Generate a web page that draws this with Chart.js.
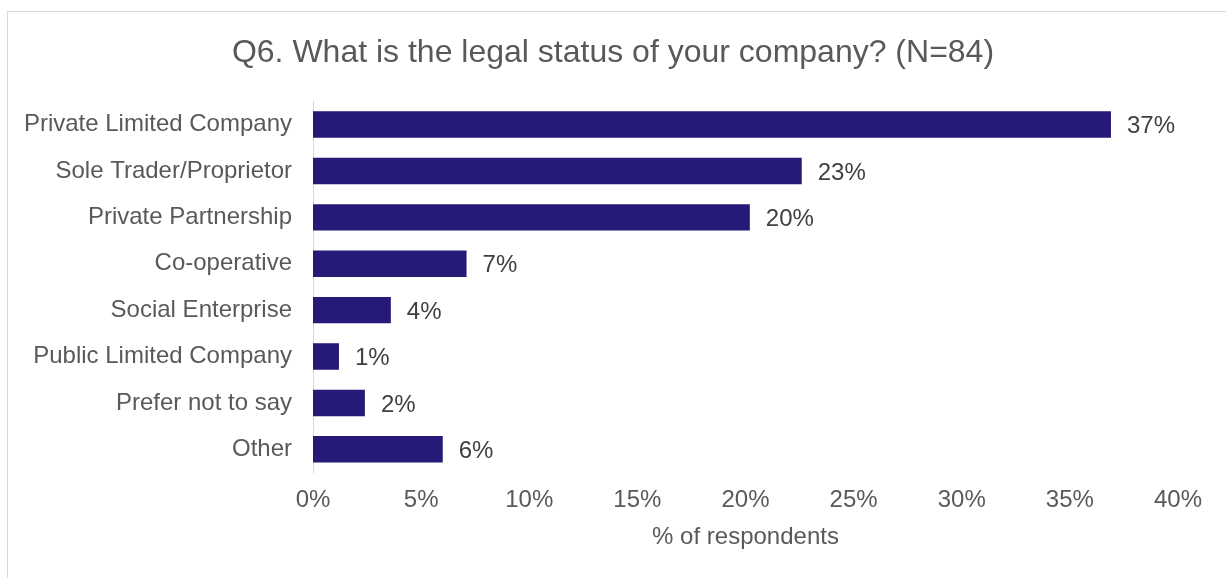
<!DOCTYPE html>
<html>
<head>
<meta charset="utf-8">
<script src="https://cdn.jsdelivr.net/npm/chart.js@4"></script>
<style>
  html, body { margin: 0; padding: 0; background: #fff; overflow: hidden; }
  #frame { position: absolute; left: 7px; top: 11px; width: 1260px; height: 620px; border: 1px solid #d9d9d9; }
  #wrap { position: absolute; left: 0; top: 0; width: 1226px; height: 578px; }
</style>
</head>
<body>
<div id="frame"></div>
<div id="wrap"><canvas id="chart1"></canvas></div>
<script>
const categories = [
    "Private Limited Company",
    "Sole Trader/Proprietor",
    "Private Partnership",
    "Co-operative",
    "Social Enterprise",
    "Public Limited Company",
    "Prefer not to say",
    "Other"
];
// share of respondents (N=84), in %
const shares = [36.9, 22.6, 20.2, 7.1, 3.6, 1.2, 2.4, 6.0];
const xTicks = [0, 5, 10, 15, 20, 25, 30, 35, 40];

const fontName = "'Liberation Sans', Arial, sans-serif";

// draws the % value at the end of every bar
const valueLabels = {
    id: 'valueLabels',
    afterDatasetsDraw(chart) {
        const ctx = chart.ctx;
        const meta = chart.getDatasetMeta(0);
        ctx.save();
        ctx.font = "24px " + fontName;
        ctx.fillStyle = '#404040';
        ctx.textBaseline = 'middle';
        ctx.textAlign = 'left';
        meta.data.forEach((bar, i) => {
            ctx.fillText(Math.round(shares[i]) + '%', bar.x + 16, bar.y + 2);
        });
        ctx.restore();
    }
};

const config = {
    type: 'bar',
    data: {
        labels: categories,
        datasets: [{
            data: shares,
            backgroundColor: '#251a78',
            borderWidth: 0,
            barPercentage: 0.57,
            categoryPercentage: 1.0
        }]
    },
    options: {
        indexAxis: 'y',
        responsive: true,
        maintainAspectRatio: false,
        animation: false,
        layout: {
            padding: 0
        },
        plugins: {
            legend: { display: false },
            tooltip: { enabled: false },
            title: {
                display: true,
                text: 'Q6. What is the legal status of your company? (N=84)',
                color: '#595959',
                font: { family: fontName, size: 32, weight: 'normal' },
                padding: { top: 34, bottom: 29 }
            }
        },
        scales: {
            x: {
                type: 'linear',
                min: 0,
                max: 40,
                afterBuildTicks: (scale) => {
                    scale.ticks = xTicks.map(v => ({ value: v }));
                },
                afterFit: (scale) => {
                    scale.height = 105.5;
                    scale.paddingRight = 48;
                },
                grid: { display: false, drawTicks: false },
                border: { display: false },
                ticks: {
                    color: '#595959',
                    font: { family: fontName, size: 24 },
                    padding: 13,
                    callback: (v) => v + '%'
                },
                title: {
                    display: true,
                    text: '% of respondents',
                    color: '#595959',
                    font: { family: fontName, size: 24 },
                    padding: { top: 0, bottom: 26 }
                }
            },
            y: {
                afterFit: (scale) => { scale.width = 313; },
                grid: { display: false, drawTicks: false },
                border: { display: true, color: '#d9d9d9', width: 1 },
                ticks: {
                    color: '#595959',
                    font: { family: fontName, size: 24 },
                    padding: 21
                }
            }
        }
    },
    plugins: [valueLabels]
};

const ctx1 = document.getElementById('chart1').getContext('2d');
const chart1 = new Chart(ctx1, config);
</script>
</body>
</html>
